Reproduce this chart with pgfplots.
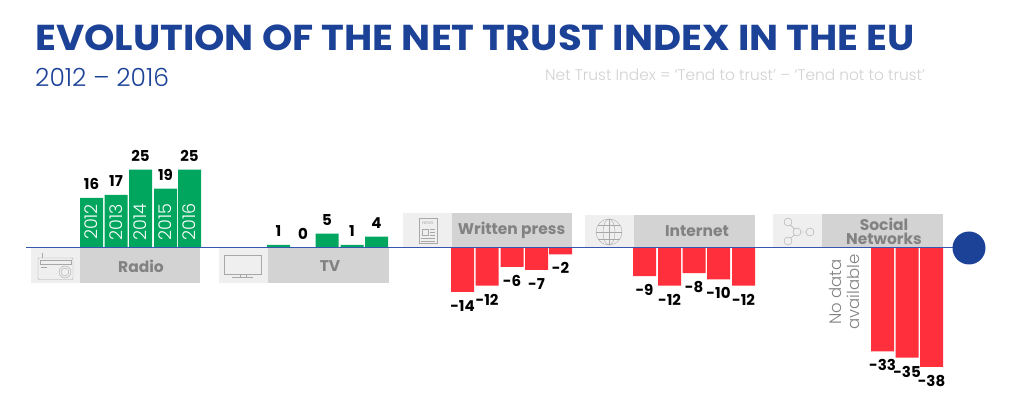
\documentclass[border=0pt]{standalone}
\usepackage{pgfplots}
\pgfplotsset{compat=1.18}
\usepackage{fontspec}
\setmainfont{Poppins}
\newfontfamily\plight{Poppins Light}
\definecolor{eublue}{HTML}{1C4298}
\definecolor{linec}{HTML}{3557AE}
\definecolor{boxd}{HTML}{D3D3D3}
\definecolor{boxl}{HTML}{EFEFEF}
\definecolor{boxt}{HTML}{828282}
\definecolor{icon}{HTML}{A8A8A8}
\definecolor{pos}{HTML}{00A55E}
\definecolor{neg}{HTML}{FF303C}
\begin{document}
\begin{tikzpicture}
\path (0,0) rectangle (1019pt,401pt);
\begin{scope}[x=1pt,y=-1pt,shift={(0pt,401pt)}]
 % category boxes
 \fill[boxl] (31,248) rectangle (80,283.5);
 \fill[boxd] (80,248) rectangle (200,283.5);
 \fill[boxl] (219,248) rectangle (268,283);
 \fill[boxd] (268,248) rectangle (389,283);
 \fill[boxl] (403,213) rectangle (452,248);
 \fill[boxd] (452,213) rectangle (572,248);
 \fill[boxl] (585,215) rectangle (634,248);
 \fill[boxd] (634,215) rectangle (755,248);
 \fill[boxl] (773,214) rectangle (822,248);
 \fill[boxd] (822,214) rectangle (943,248);
\end{scope}
\begin{axis}[
  at={(0,0)},anchor=south west,
  scale only axis,width=1019pt,height=401pt,
  xmin=0,xmax=1019,ymin=-48.88,ymax=79.23,
  axis lines=none,
  ybar,bar width=23pt,bar shift=0pt,
  point meta=explicit symbolic,
  nodes near coords={\pgfplotspointmeta},
  clip=false]
\addplot[fill=pos,draw=none,
  nodes near coords style={anchor=center,yshift=14pt,font=\bfseries\fontsize{15}{15}\selectfont,text=black}]
 table[x=x,y=y,meta=l]{
x y l
91.5 16 16
116 17 17
140.5 25 25
165.5 19 19
189.5 25 25
278.5 1 1
303 0 0
327 4.6 5
352 1 1
376.5 3.6 4
};
\addplot[fill=neg,draw=none,
  nodes near coords style={anchor=center,yshift=-14pt,font=\bfseries\fontsize{15}{15}\selectfont,text=black}]
 table[x=x,y=y,meta=l]{
x y l
462.5 -14 -14
487 -12 -12
512 -6 -6
536.5 -7 -7
560.5 -2 -2
644.5 -9 -9
669.5 -12 -12
694 -8 -8
718.5 -10 -10
743.5 -12 -12
882.5 -33 -33
907 -35 -35
931.5 -38 -38
};
\end{axis}
\begin{scope}[x=1pt,y=-1pt,shift={(0pt,401pt)}]
 \draw[linec,line width=1pt] (26,248) -- (955,248);
 \fill[eublue] (969,248) circle (16.5);
 % title
 \node[anchor=west,inner sep=0,text=eublue,font=\bfseries\fontsize{36}{36}\selectfont] at (35,38) {\scalebox{1.073}[1]{EVOLUTION OF THE NET TRUST INDEX IN THE EU}};
 \node[anchor=west,inner sep=0,text=eublue,font=\plight\fontsize{25}{25}\selectfont] at (35,77) {2012 – 2016};
 \node[anchor=west,inner sep=0,text=black!18,font=\plight\fontsize{15.35}{15}\selectfont] at (545,75) {Net Trust Index = ‘Tend to trust’ – ‘Tend not to trust’};
 % box labels
 \begin{scope}[text=boxt,font=\bfseries\fontsize{15.5}{15.5}\selectfont]
 \node at (141,266) {Radio};
 \node at (330,266) {TV};
 \node at (511.5,230.5) {Written press};
 \node at (697,231) {Internet};
 \node[align=center,inner sep=0] at (884,231.5) {\fontsize{15.5}{15}\selectfont Social\\[-1pt]\fontsize{15.5}{15}\selectfont Networks};
 \end{scope}
 % years
 \foreach \xx/\yy in {91.5/2012,116/2013,140.5/2014,165.5/2015,189.5/2016}
   \node[rotate=90,text=white,font=\plight\fontsize{17.5}{17.5}\selectfont,inner sep=0] at (\xx,222) {\yy};
 % no data
 \node[rotate=90,text=boxt,font=\plight\fontsize{16.5}{18}\selectfont,align=center,inner sep=0] at (844,292) {No data\\available};
 % icons
 \begin{scope}[draw=icon,line width=0.4pt]
 \draw[rounded corners=1pt] (38,258) rectangle (73,279.5);
 \draw (42,253) -- (42,258);
 \draw (40,260) rectangle (71,264);
 \draw (65,272) circle (6) (65,272) circle (4);
 \draw (41,267) -- (47,267);
 \draw (224,255) rectangle (261,274);
 \draw (240,274) -- (240,277) (246,274) -- (246,277) (232,277) -- (253,277);
 \draw (419,218) rectangle (437,243);
 \draw (422,229) rectangle (428,235);
 \draw (430,229) -- (435,229) (430,232) -- (435,232) (430,235) -- (435,235);
 \draw (421,238) -- (435,238) (421,241) -- (435,241);
 \node[inner sep=0,text=icon,font=\fontsize{4}{4}\selectfont] at (428,223) {NEWS};
 \draw (609,232) circle (13);
 \draw (609,232) ellipse (6 and 13);
 \draw (596,232) -- (622,232) (609,219) -- (609,245);
 \draw (598,225) -- (620,225) (598,239) -- (620,239);
 \draw (788,222) circle (4) (797,232) circle (4) (810,232) circle (4) (788,241) circle (4);
 \draw (790.5,225) -- (794.5,229) (790.5,238) -- (794.5,235) (801,232) -- (806,232);
 \end{scope}
\end{scope}
\end{tikzpicture}
\end{document}
